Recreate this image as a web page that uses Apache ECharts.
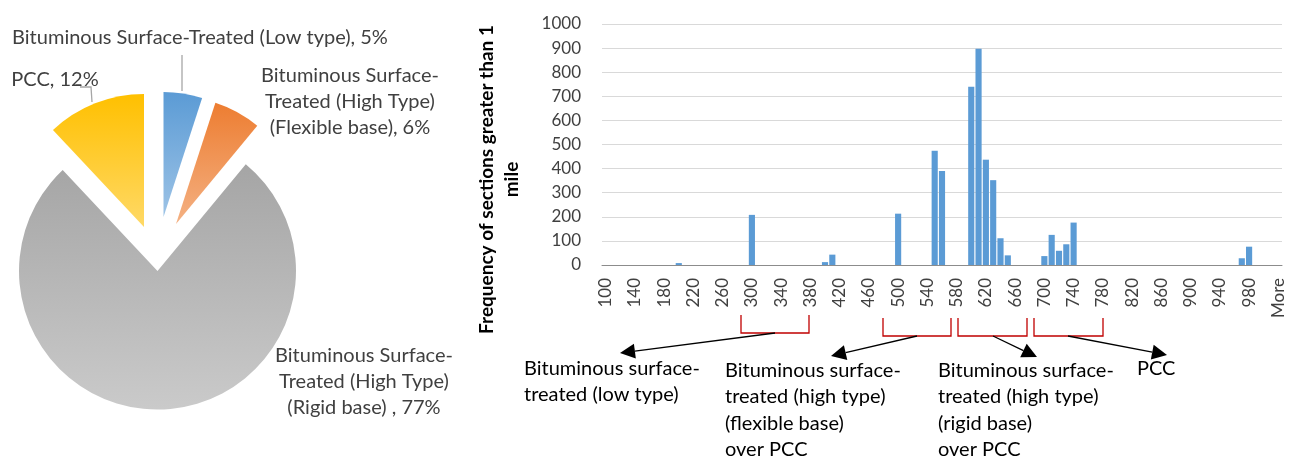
<!DOCTYPE html>
<html>
<head>
<meta charset="utf-8">
<script src="https://cdn.jsdelivr.net/npm/echarts/dist/echarts.min.js"></script>
<style>
  html, body { margin: 0; padding: 0; background: #fff; }
  #chart { width: 1291px; height: 460px; }
</style>
</head>
<body>
<div id="chart"></div>
<script>
// pie: share of pavement types (%)
const pieNames = [
  'Bituminous Surface-Treated (Low type)',
  'Bituminous Surface-\nTreated (High Type)\n(Flexible base)',
  'Bituminous Surface-\nTreated (High Type)\n(Rigid base) ',
  'PCC',
];
const pieValues = [5, 6, 77, 12];

// histogram bins (10 wide) and frequency of sections > 1 mile
const binLabels = [
  '100', '110', '120', '130', '140', '150', '160', '170', '180', '190',
  '200', '210', '220', '230', '240', '250', '260', '270', '280', '290',
  '300', '310', '320', '330', '340', '350', '360', '370', '380', '390',
  '400', '410', '420', '430', '440', '450', '460', '470', '480', '490',
  '500', '510', '520', '530', '540', '550', '560', '570', '580', '590',
  '600', '610', '620', '630', '640', '650', '660', '670', '680', '690',
  '700', '710', '720', '730', '740', '750', '760', '770', '780', '790',
  '800', '810', '820', '830', '840', '850', '860', '870', '880', '890',
  '900', '910', '920', '930', '940', '950', '960', '970', '980', '990',
  '1000', '1010', 'More',
];
const frequency = [
  0, 0, 0, 0, 0, 0, 0, 0, 0, 0,
  8, 0, 0, 0, 0, 0, 0, 0, 0, 0,
  208, 0, 0, 0, 0, 0, 0, 0, 0, 0,
  12, 43, 0, 0, 0, 0, 0, 0, 0, 0,
  213, 0, 0, 0, 0, 474, 390, 0, 0, 0,
  740, 897, 437, 352, 111, 40, 0, 0, 0, 0,
  37, 125, 59, 86, 176, 0, 0, 0, 0, 0,
  0, 0, 0, 0, 0, 0, 0, 0, 0, 0,
  0, 0, 0, 0, 0, 0, 0, 28, 76, 0,
  0, 0, 0,
];
const yTicks = { min: 0, max: 1000, interval: 100 };

// annotation texts under the histogram
const noteTexts = [
  'Bituminous surface-\ntreated (low type)',
  'Bituminous surface-\ntreated (high type)\n(flexible base)\nover PCC',
  'Bituminous surface-\ntreated (high type)\n(rigid base)\nover PCC',
  'PCC',
];

const FONT = 'Lato';
const grad = (c1, c2) => new echarts.graphic.LinearGradient(0, 0, 0, 1, [
  { offset: 0, color: c1 },
  { offset: 1, color: c2 },
]);

// per slice look: fill, radius, explosion offset, label anchor and label line
const PIE_CENTER = [157.5, 271];
const sliceStyle = [
  { fill: grad('#5b9bd5', '#9dc3e6'), r: 125, dx: 6, dy: -54, lx: 200, ly: 38, line: [[182, 55], [182, 91]] },
  { fill: grad('#ed7d31', '#f4b183'), r: 127.5, dx: 18.5, dy: -47, lx: 350, ly: 76 },
  { fill: grad('#a5a5a5', '#cacaca'), r: 138.5, dx: 0, dy: 0, lx: 364, ly: 356 },
  { fill: grad('#ffc000', '#ffd966'), r: 133, dx: -13.5, dy: -44, lx: 55, ly: 80, line: [[80, 87], [91, 87], [92, 102]] },
];

// one pie series per slice so every slice can have its own explosion
function pieSeries(k) {
  const st = sliceStyle[k];
  return {
    type: 'pie',
    center: [PIE_CENTER[0] + st.dx, PIE_CENTER[1] + st.dy],
    radius: st.r,
    startAngle: 90,
    clockwise: true,
    silent: true,
    percentPrecision: 0,
    avoidLabelOverlap: false,
    label: {
      formatter: '{b}, {d}%',
      fontFamily: FONT,
      fontSize: 20,
      lineHeight: 26,
      color: '#404040',
    },
    labelLine: { lineStyle: { color: '#a6a6a6', width: 1.3 } },
    labelLayout: function () {
      const out = { x: st.lx, y: st.ly - 13, align: 'center', verticalAlign: 'top' };
      if (st.line) out.labelLinePoints = st.line;
      return out;
    },
    data: pieNames.map((name, i) => ({
      name: name,
      value: pieValues[i],
      itemStyle: { color: i === k ? st.fill : 'rgba(0,0,0,0)' },
      label: { show: i === k },
      labelLine: { show: i === k && !!st.line },
    })),
  };
}

// red brackets, arrows and their texts
function arrow(x1, y1, x2, y2) {
  const a = Math.atan2(y2 - y1, x2 - x1);
  const len = 15, half = 7.5;
  const bx = x2 - len * Math.cos(a), by = y2 - len * Math.sin(a);
  return [
    { type: 'line', shape: { x1: x1, y1: y1, x2: bx, y2: by }, style: { stroke: '#000', lineWidth: 1.3 } },
    {
      type: 'polygon',
      shape: { points: [[x2, y2], [bx + half * Math.sin(a), by - half * Math.cos(a)], [bx - half * Math.sin(a), by + half * Math.cos(a)]] },
      style: { fill: '#000' },
    },
  ];
}
function bracket(x1, x2, top, bottom) {
  return {
    type: 'polyline',
    shape: { points: [[x1, top], [x1, bottom], [x2, bottom], [x2, top]] },
    style: { stroke: '#c00000', lineWidth: 1.3, fill: null },
  };
}
function note(text, x, y) {
  return {
    type: 'text', x: x, y: y - 13,
    style: { text: text, fontFamily: FONT, fontSize: 20, lineHeight: 26.5, fill: '#000', align: 'left', verticalAlign: 'top' },
  };
}

const graphics = [].concat(
  bracket(741, 809, 315, 333),
  bracket(883, 951, 318, 336),
  bracket(958, 1027, 318, 336),
  bracket(1034, 1103, 318, 336),
  arrow(775, 333, 620, 353),
  arrow(917, 336, 831, 356),
  arrow(993, 336, 1037, 357),
  arrow(1068, 336, 1167, 355),
  note(noteTexts[0], 524, 368),
  note(noteTexts[1], 725, 370),
  note(noteTexts[2], 938, 370),
  note(noteTexts[3], 1137, 368)
);

const chart = echarts.init(document.getElementById('chart'), null, { renderer: 'canvas' });
chart.setOption({
  animation: false,
  textStyle: { fontFamily: FONT },
  grid: { left: 602, top: 24, width: 680, height: 241, containLabel: false, outerBoundsMode: 'none' },
  xAxis: {
    type: 'category',
    data: binLabels,
    axisTick: { show: false },
    axisLine: { lineStyle: { color: '#8c8c8c', width: 1 } },
    axisLabel: { interval: 3, rotate: 90, margin: 13, fontSize: 17, color: '#404040', fontFamily: FONT },
  },
  yAxis: {
    type: 'value',
    min: yTicks.min,
    max: yTicks.max,
    interval: yTicks.interval,
    name: 'Frequency of sections greater than 1\nmile',
    nameLocation: 'middle',
    nameRotate: 90,
    nameGap: 78,
    nameTextStyle: {
      fontFamily: FONT, fontSize: 19, fontWeight: 'bold', color: '#000',
      lineHeight: 25, align: 'center', padding: [0, 70, 0, 0],
    },
    axisLine: { show: false },
    axisTick: { show: false },
    axisLabel: { margin: 21, fontSize: 17, color: '#404040', fontFamily: FONT, formatter: v => String(v) },
    splitLine: { lineStyle: { color: '#d9d9d9', width: 1 } },
  },
  series: [
    {
      type: 'bar',
      data: frequency,
      barCategoryGap: '16%',
      itemStyle: { color: '#5b9bd5' },
      silent: true,
    },
  ].concat(pieNames.map((n, k) => pieSeries(k))),
  graphic: graphics,
});
</script>
</body>
</html>
